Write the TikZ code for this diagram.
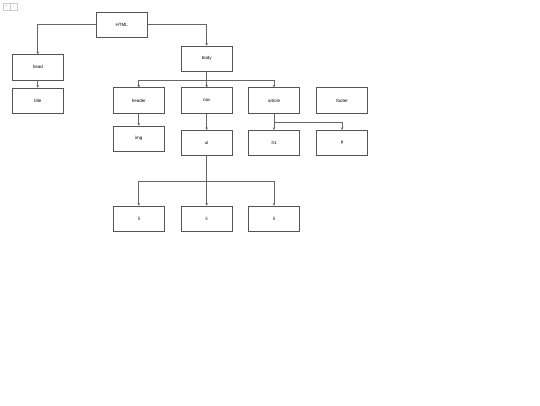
\documentclass[tikz,border=0pt]{standalone}
\usepackage{fontspec}
\setmainfont{Liberation Sans}
\usetikzlibrary{arrows.meta}
\definecolor{boxline}{HTML}{555555}
\definecolor{conn}{HTML}{666666}
\begin{document}
\begin{tikzpicture}[x=1pt,y=-1pt,
  tbox/.style={draw=boxline,line width=0.6pt,minimum width=51pt,minimum height=25.5pt,inner sep=0pt,font=\fontsize{4.5}{5}\selectfont},
  ctrl/.style={draw=black!20,line width=0.4pt,minimum width=7pt,minimum height=7pt,inner sep=0pt,text=black!35,font=\fontsize{4}{4}\selectfont},
  conn/.style={draw=conn,line width=0.7pt},
  arr/.style={conn,-{Stealth[length=2.6pt,width=2.6pt]}}]
\useasboundingbox (0,0) rectangle (540,405);
\node[ctrl] (plus) at (6.5,6.5) {+};
\node[ctrl] (minus) at (13.5,6.5) {-};
\node[tbox] (html) at (121.8,24.8) {HTML};
\node[tbox] (head) at (37.8,67.2) {head};
\node[tbox] (title) at (37.8,100.8) {title};
\node[tbox] (body) at (206.7,58.8) {body};
\node[tbox] (header) at (138.8,100.5) {header};
\node[tbox] (nav) at (206.7,100.5) {nav};
\node[tbox] (article) at (274,100.5) {article};
\node[tbox] (footer) at (342,100.5) {footer};
\node[tbox] (img) at (138.8,138.7) {img};
\node[tbox] (ul) at (206.7,143) {ul};
\node[tbox] (h1) at (274,143) {h1};
\node[tbox] (p) at (342,143) {p};
\node[tbox] (li1) at (138.8,218.7) {li};
\node[tbox] (li2) at (206.7,218.7) {li};
\node[tbox] (li3) at (274,218.7) {li};
% HTML children
\draw[arr] (html.west) -| (head.north);
\draw[arr] (html.east) -| (body.north);
\draw[arr] (head.south) -- (title.north);
% body children
\coordinate (bj) at (206.7,80.5);
\draw[conn] (body.south) -- (bj);
\draw[arr] (bj) -| (header.north);
\draw[arr] (bj) -- (nav.north);
\draw[arr] (bj) -| (article.north);
\draw[arr] (header.south) -- (img.north);
\draw[arr] (nav.south) -- (ul.north);
% article children
\coordinate (aj) at (274,122.3);
\draw[arr] (article.south) -- (h1.north);
\draw[arr] (aj) -| (p.north);
% ul children
\coordinate (uj) at (206.7,181);
\draw[conn] (ul.south) -- (uj);
\draw[arr] (uj) -| (li1.north);
\draw[arr] (uj) -- (li2.north);
\draw[arr] (uj) -| (li3.north);
\end{tikzpicture}
\end{document}
